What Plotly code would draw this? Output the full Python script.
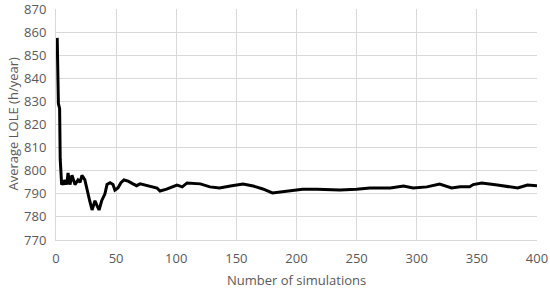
import plotly.graph_objects as go

# Number of simulations vs running average LOLE
n_sims = [1, 2, 3, 3.5, 4.7, 6, 7, 8, 9, 10, 11.6, 13.3, 15.8, 18.3, 20, 21.6, 24,
          25.8, 28, 30, 32.4, 34, 35.8, 38, 40.7, 42.4, 45, 47.4, 49, 51.5, 54,
          56.5, 60, 64, 67, 70, 78, 84, 86.5, 92, 100.6, 105, 109, 120, 128, 136,
          145, 155.5, 164, 172, 180, 186, 195, 205, 217, 228, 236, 250, 261, 278,
          289, 297, 308.5, 319, 329, 336, 344, 347, 354, 367, 377.5, 384, 392, 400]
avg_lole = [857.5, 829, 827, 805, 794, 795, 794, 796, 794, 799, 794, 798, 794, 796,
            795, 798, 796, 792.5, 787, 783, 787, 785, 783, 787, 790, 794, 794.8,
            794, 791.6, 792.5, 794.8, 796, 795.5, 794.3, 793.5, 794.3, 793.4, 792.5,
            791.2, 792, 793.8, 793, 794.7, 794.3, 793, 792.5, 793.4, 794.2, 793.4,
            792.1, 790.4, 790.8, 791.2, 792, 792, 791.7, 791.6, 792, 792.5, 792.5,
            793.4, 792.5, 793, 794.2, 792.5, 793, 793, 794, 794.7, 793.8, 793,
            792.5, 793.8, 793.5]

x_ticks = list(range(0, 401, 50))
y_ticks = list(range(770, 871, 10))

grey = '#595959'
grid = '#d9d9d9'

trace = go.Scatter(x=n_sims, y=avg_lole, mode='lines',
                   line=dict(color='black', width=3))

layout = go.Layout(
    width=550, height=290,
    margin=dict(l=56, r=13, t=9, b=50),
    paper_bgcolor='white', plot_bgcolor='white',
    font=dict(family='Open Sans, Liberation Sans, sans-serif', size=13, color=grey),
    showlegend=False,
    xaxis=dict(range=[0, 400], tickvals=x_ticks, showgrid=True, gridcolor=grid,
               gridwidth=1, showline=True, linecolor=grid, zeroline=False,
               ticks='outside', ticklen=6, tickcolor='rgba(0,0,0,0)',
               ticklabeloverflow='allow', automargin=False),
    yaxis=dict(range=[770, 870], tickvals=y_ticks, showgrid=True, gridcolor=grid,
               gridwidth=1, showline=True, linecolor=grid, zeroline=False,
               ticks='outside', ticklen=6, tickcolor='rgba(0,0,0,0)',
               ticklabeloverflow='allow', automargin=False),
    annotations=[
        dict(text='Number of simulations', xref='paper', yref='paper',
             x=0.5, y=0, yshift=-40, showarrow=False, yanchor='middle',
             font=dict(size=13, color=grey)),
        dict(text='Average LOLE (h/year)', xref='paper', yref='paper',
             x=0, y=0.5, xshift=-44, showarrow=False, textangle=-90,
             xanchor='center', font=dict(size=13, color=grey)),
    ],
)

fig = go.Figure(data=[trace], layout=layout)
# drop the default page margin so the chart sits at the window's corner
fig.write_html('out.html', config={'displayModeBar': False},
               post_script="document.body.style.margin='0';")
